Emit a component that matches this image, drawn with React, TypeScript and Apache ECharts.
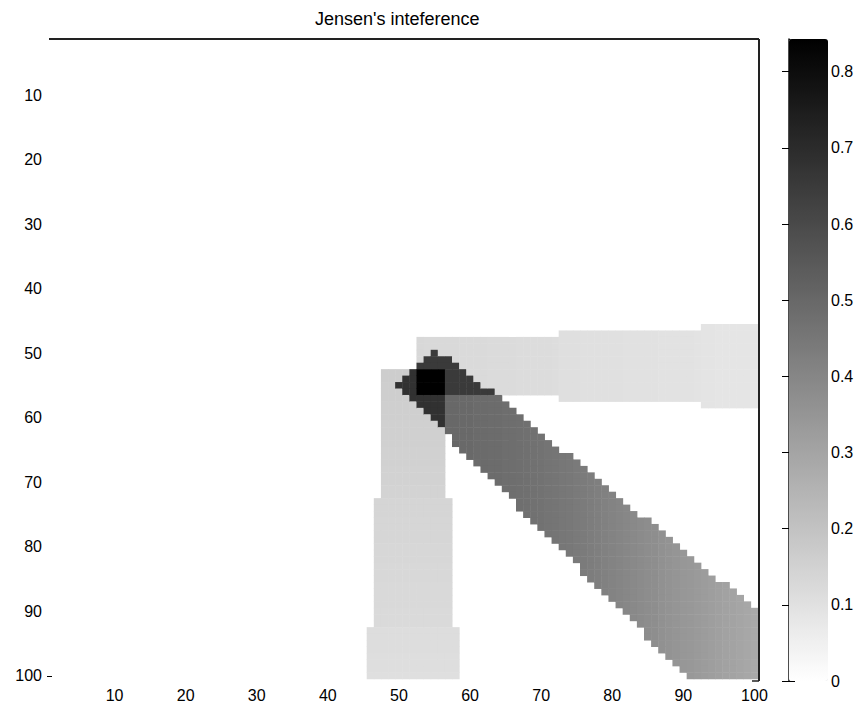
import React, { useEffect, useRef } from "react";
import * as echarts from "echarts";

// ---- axes / ticks ----
const GRID_N = 100;
const xTickLabels = ["10", "20", "30", "40", "50", "60", "70", "80", "90", "100"];
const yTickLabels = ["10", "20", "30", "40", "50", "60", "70", "80", "90", "100"];
const colorbarTicks = [0, 0.1, 0.2, 0.3, 0.4, 0.5, 0.6, 0.7, 0.8];
const colorMax = 0.843;

// ---- horizontal wake (three width steps) ----
const hColStart = [53, 73, 93];
const hColEnd = [72, 92, 100];
const hRowTop = [48, 47, 46];
const hRowBottom = [56, 57, 58];
// value per column, columns 53..100
const hValues = [
  0.128, 0.127, 0.126, 0.126, 0.125, 0.124, 0.123, 0.123, 0.122, 0.121,
  0.12, 0.12, 0.119, 0.118, 0.117, 0.117, 0.116, 0.115, 0.115, 0.114,
  0.106, 0.105, 0.105, 0.104, 0.103, 0.103, 0.102, 0.101, 0.101, 0.1,
  0.099, 0.099, 0.098, 0.098, 0.097, 0.096, 0.096, 0.095, 0.095, 0.094,
  0.088, 0.088, 0.087, 0.087, 0.086, 0.086, 0.085, 0.085,
];

// ---- vertical wake (three width steps) ----
const vRowStart = [53, 73, 93];
const vRowEnd = [72, 92, 100];
const vColLeft = [48, 47, 46];
const vColRight = [56, 57, 58];
// value per row, rows 53..100
const vValues = [
  0.165, 0.164, 0.163, 0.162, 0.161, 0.16, 0.159, 0.158, 0.157, 0.156,
  0.155, 0.154, 0.153, 0.152, 0.151, 0.15, 0.149, 0.148, 0.147, 0.146,
  0.14, 0.139, 0.138, 0.137, 0.136, 0.135, 0.134, 0.133, 0.132, 0.131,
  0.13, 0.129, 0.128, 0.127, 0.126, 0.125, 0.124, 0.123, 0.122, 0.121,
  0.114, 0.113, 0.112, 0.111, 0.11, 0.109, 0.108, 0.107,
];

// ---- diagonal wake: per column (50..100) top row, bottom row, value ----
const dColStart = 50;
const dTop = [
  55, 54, 53, 52, 51, 50, 51, 51, 52, 53,
  54, 55, 56, 56, 57, 58, 59, 60, 61, 62,
  63, 64, 65, 66, 66, 67, 68, 69, 70, 71,
  72, 73, 74, 75, 76, 76, 77, 78, 79, 80,
  81, 82, 83, 84, 85, 86, 86, 87, 88, 89,
  90,
];
const dBottom = [
  55, 56, 57, 58, 59, 60, 61, 62, 64, 65,
  66, 67, 68, 69, 70, 71, 72, 74, 75, 76,
  77, 78, 79, 80, 81, 82, 84, 85, 86, 87,
  88, 89, 90, 91, 92, 94, 95, 96, 97, 98,
  99, 100, 100, 100, 100, 100, 100, 100, 100, 100,
  100,
];
const dValues = [
  0.505, 0.505, 0.505, 0.505, 0.505, 0.505, 0.5, 0.5, 0.5, 0.495,
  0.495, 0.49, 0.49, 0.485, 0.485, 0.48, 0.478, 0.475, 0.472, 0.468,
  0.465, 0.46, 0.455, 0.45, 0.445, 0.44, 0.435, 0.43, 0.424, 0.418,
  0.41, 0.404, 0.398, 0.391, 0.385, 0.378, 0.372, 0.365, 0.358, 0.352,
  0.345, 0.339, 0.333, 0.327, 0.321, 0.315, 0.309, 0.303, 0.297, 0.291,
  0.285,
];

// ---- overlap shades ----
const overlapDH = 0.65;
const overlapDV = 0.68;
const overlapDHV = 0.843;

const FONT = "'Liberation Sans', Arial, sans-serif";

function hAt(c: number, r: number): number {
  for (let i = 0; i < hColStart.length; i++) {
    if (c >= hColStart[i] && c <= hColEnd[i] && r >= hRowTop[i] && r <= hRowBottom[i]) {
      return hValues[c - hColStart[0]];
    }
  }
  return 0;
}
function vAt(c: number, r: number): number {
  for (let i = 0; i < vRowStart.length; i++) {
    if (r >= vRowStart[i] && r <= vRowEnd[i] && c >= vColLeft[i] && c <= vColRight[i]) {
      return vValues[r - vRowStart[0]];
    }
  }
  return 0;
}
function dAt(c: number, r: number): number {
  const k = c - dColStart;
  if (k < 0 || k >= dTop.length) return 0;
  if (r >= dTop[k] && r <= dBottom[k]) return dValues[k];
  return 0;
}

function buildCells(): number[][] {
  const out: number[][] = [];
  for (let c = 1; c <= GRID_N; c++) {
    for (let r = 1; r <= GRID_N; r++) {
      const h = hAt(c, r);
      const v = vAt(c, r);
      const d = dAt(c, r);
      let val = 0;
      if (d && h && v) val = overlapDHV;
      else if (d && h) val = overlapDH;
      else if (d && v) val = overlapDV;
      else val = d + h + v;
      if (val > 0) out.push([c - 1, r - 1, val]);
    }
  }
  return out;
}

export default function App() {
  const ref = useRef<HTMLDivElement>(null);
  useEffect(() => {
    if (!ref.current) return;
    const chart = echarts.init(ref.current, undefined, { renderer: "svg" });
    const cats = Array.from({ length: GRID_N }, (_, i) => String(i + 1));
    const gl = 47, gt = 34, gw = 711, gh = 645;
    const cbLeft = 789, cbTop = 39, cbW = 39, cbH = 642;
    const option: any = {
      animation: false,
      backgroundColor: "#ffffff",
      title: {
        text: "Jensen's inteference",
        left: 310,
        top: 5,
        textStyle: { fontFamily: FONT, fontSize: 18, fontWeight: "normal", color: "#000" },
      },
      grid: [
        { left: gl, top: gt, width: gw, height: gh },
        { left: cbLeft, top: cbTop, width: cbW, height: cbH },
      ],
      xAxis: [
        {
          type: "category",
          gridIndex: 0,
          data: cats,
          position: "bottom",
          axisLine: { show: false },
          axisTick: { show: false },
          splitLine: { show: false },
          axisLabel: {
            interval: (_i: number, v: string) => xTickLabels.includes(v),
            margin: 8,
            fontFamily: FONT,
            fontSize: 16,
            color: "#000",
          },
        },
        { type: "value", gridIndex: 1, show: false, min: 0, max: 1 },
      ],
      yAxis: [
        {
          type: "category",
          gridIndex: 0,
          data: cats,
          inverse: true,
          axisLine: { show: false },
          axisTick: {
            show: true,
            inside: true,
            length: 5,
            alignWithLabel: true,
            interval: (i: number) => i === GRID_N - 1,
            lineStyle: { color: "#000", width: 1 },
          },
          splitLine: { show: false },
          axisLabel: {
            interval: (_i: number, v: string) => yTickLabels.includes(v),
            margin: 5,
            fontFamily: FONT,
            fontSize: 16,
            color: "#000",
          },
        },
        {
          type: "value",
          gridIndex: 1,
          position: "right",
          min: 0,
          max: colorMax,
          interval: 0.1,
          axisLine: { show: true, lineStyle: { color: "#111", width: 1.5 } },
          axisTick: { show: true, inside: true, length: 7, lineStyle: { color: "#000" } },
          splitLine: { show: false },
          axisLabel: {
            margin: 3,
            showMaxLabel: false,
            fontFamily: FONT,
            fontSize: 16,
            color: "#000",
            formatter: (v: number) => {
              const hit = colorbarTicks.find((t) => Math.abs(t - v) < 1e-6);
              if (hit === undefined) return "";
              return hit === 0 ? "0" : hit.toFixed(1);
            },
          },
        },
        {
          type: "value",
          gridIndex: 1,
          position: "left",
          min: 0,
          max: colorMax,
          interval: 0.1,
          axisLine: { show: false },
          axisTick: { show: true, inside: true, length: 6, lineStyle: { color: "#000" } },
          splitLine: { show: false },
          axisLabel: { show: false },
        },
      ],
      visualMap: {
        type: "continuous",
        seriesIndex: 0,
        dimension: 2,
        min: 0,
        max: colorMax,
        calculable: false,
        hoverLink: false,
        left: cbLeft,
        top: cbTop,
        itemWidth: cbW,
        itemHeight: cbH,
        padding: 0,
        inRange: { color: ["#ffffff", "#000000"] },
      },
      graphic: [
        {
          type: "line",
          shape: { x1: 49, y1: 39, x2: 759, y2: 39 },
          style: { stroke: "#222", lineWidth: 2 },
          silent: true,
          z: 100,
        },
        {
          type: "line",
          shape: { x1: 759, y1: 39, x2: 759, y2: 681 },
          style: { stroke: "#222", lineWidth: 2 },
          silent: true,
          z: 100,
        },
        {
          type: "line",
          shape: { x1: 752, y1: 681, x2: 759, y2: 681 },
          style: { stroke: "#222", lineWidth: 1.5 },
          silent: true,
          z: 100,
        },
      ],
      series: [
        {
          type: "heatmap",
          xAxisIndex: 0,
          yAxisIndex: 0,
          data: buildCells(),
          itemStyle: { borderWidth: 0 },
          emphasis: { disabled: true },
        },
      ],
    };
    chart.setOption(option);
    return () => chart.dispose();
  }, []);
  return (
    <div
      ref={ref}
      style={{ position: "fixed", left: 0, top: 0, width: 862, height: 709, background: "#fff" }}
    />
  );
}
